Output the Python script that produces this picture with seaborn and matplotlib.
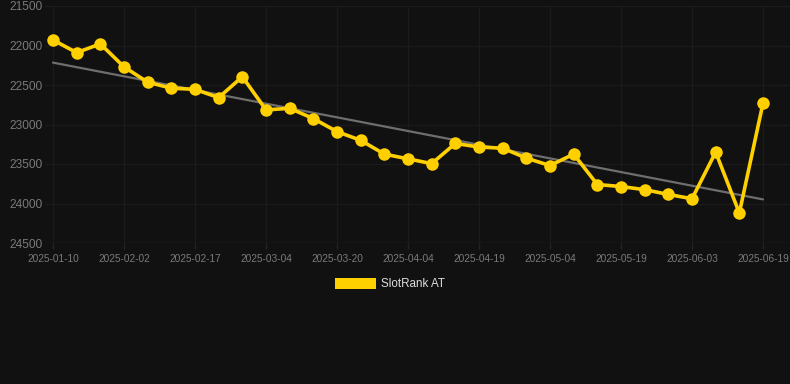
import numpy as np
import pandas as pd
import matplotlib
matplotlib.use("Agg")
import matplotlib.pyplot as plt
from matplotlib.patches import Patch
import seaborn as sns

dates = ["2025-01-10", "2025-01-18", "2025-01-25", "2025-02-02", "2025-02-07", "2025-02-12",
         "2025-02-17", "2025-02-22", "2025-02-27", "2025-03-04", "2025-03-09", "2025-03-14",
         "2025-03-20", "2025-03-25", "2025-03-30", "2025-04-04", "2025-04-09", "2025-04-14",
         "2025-04-19", "2025-04-24", "2025-04-29", "2025-05-04", "2025-05-09", "2025-05-14",
         "2025-05-19", "2025-05-24", "2025-05-29", "2025-06-03", "2025-06-08", "2025-06-13",
         "2025-06-19"]
ranks = [21930, 22090, 21980, 22270, 22465, 22540, 22555, 22660, 22395, 22815, 22795,
         22925, 23090, 23200, 23375, 23435, 23495, 23240, 23285, 23300, 23425, 23520,
         23375, 23760, 23785, 23825, 23885, 23940, 23350, 24120, 22730]
series_name = "SlotRank AT"
y_ticks = [21500, 22000, 22500, 23000, 23500, 24000, 24500]

BG = "#111111"
GRID = "#1b1b1b"
YELLOW = "#FFD000"
TREND = "#6e6e6e"
TICKC = "#7a7a7a"

sns.set_theme(style="dark")
plt.rcParams["font.family"] = ["Liberation Sans", "DejaVu Sans"]

df = pd.DataFrame({"date": dates, "rank": ranks})
df["pos"] = np.arange(len(df))

fig = plt.figure(figsize=(7.9, 3.84), dpi=100, facecolor=BG)
ax = fig.add_axes([45 / 790, 1 - 243 / 384, 745 / 790, 237 / 384])
ax.set_facecolor(BG)

sns.regplot(data=df, x="pos", y="rank", scatter=False, ci=None, truncate=True,
            line_kws={"color": TREND, "lw": 1.6, "zorder": 2}, ax=ax)
sns.lineplot(data=df, x="pos", y="rank", color=YELLOW, lw=2.6, marker="o",
             markersize=9, markeredgewidth=0, markerfacecolor=YELLOW, ax=ax,
             zorder=3, legend=False)

step = 23.667
ax.set_xlim(-8 / step, 30 + 27 / step)
ax.set_ylim(24500, 21500)
ax.set_yticks(y_ticks)
ax.set_yticklabels([str(v) for v in y_ticks])
tick_pos = list(range(0, len(dates), 3))
ax.set_xticks(tick_pos)
ax.set_xticklabels([dates[i] for i in tick_pos])

ax.grid(True, color=GRID, lw=1)
for s in ax.spines.values():
    s.set_visible(False)
ax.axhline(24500, color="#262626", lw=1, zorder=1)
ax.tick_params(axis="y", length=0, pad=2, labelsize=8.6, labelcolor=TICKC)
ax.tick_params(axis="x", length=4, width=1, color="#242424", pad=4,
               labelsize=7.3, labelcolor=TICKC, bottom=True)
ax.set_xlabel("")
ax.set_ylabel("")

handle = Patch(facecolor=YELLOW, edgecolor="none")
fig.legend([handle], [series_name], loc="center", bbox_to_anchor=(390 / 790, 1 - 284 / 384),
           frameon=False, fontsize=8.4, labelcolor="#dddddd", handlelength=3.5,
           handleheight=1.05, handletextpad=0.5)

fig.savefig("out.png", dpi=100, facecolor=BG)
